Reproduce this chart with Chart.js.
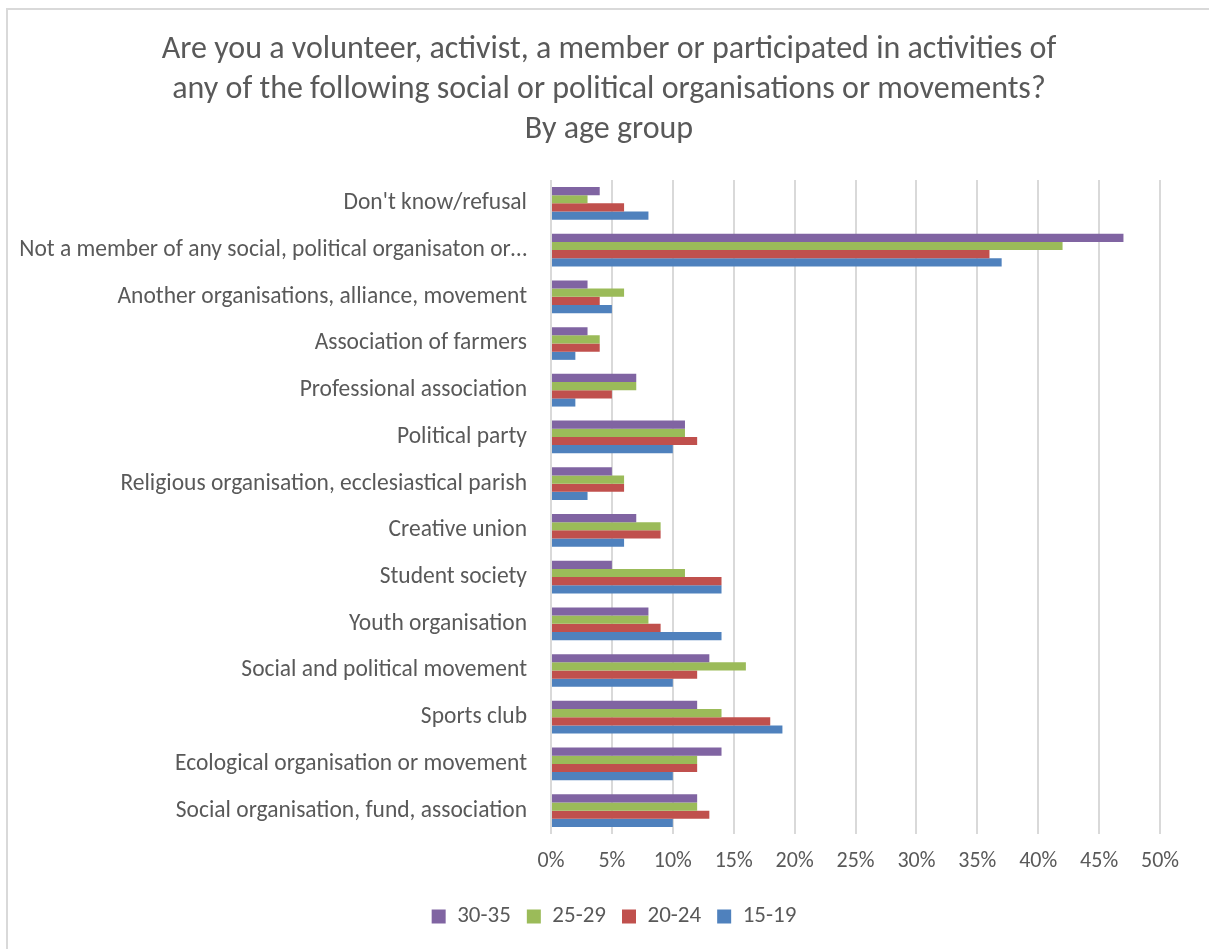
<!DOCTYPE html>
<html>
<head>
<meta charset="utf-8">
<title>Membership by age group</title>
<script src="https://cdn.jsdelivr.net/npm/chart.js@4"></script>
<style>
  html, body { margin: 0; padding: 0; background: #fff; }
  #wrap { position: relative; width: 1209px; height: 949px; overflow: hidden; }
  #frame { position: absolute; left: 6px; top: 8px; width: 1300px; height: 1000px;
           border: 2px solid #d9d9d9; box-sizing: border-box; }
  canvas { position: absolute; left: 0; top: 0; }
</style>
</head>
<body>
<div id="wrap">
  <div id="frame"></div>
  <canvas id="orgChart" width="1209" height="949"></canvas>
</div>
<script>
const categories = [
  "Don't know/refusal",
  'Not a member of any social, political organisaton or\u2026',
  'Another organisations, alliance, movement',
  'Association of farmers',
  'Professional association',
  'Political party',
  'Religious organisation, ecclesiastical parish',
  'Creative union',
  'Student society',
  'Youth organisation',
  'Social and political movement',
  'Sports club',
  'Ecological organisation or movement',
  'Social organisation, fund, association'
];

// percent of respondents, same order as categories
const age30to35 = [4, 47, 3, 3, 7, 11, 5, 7, 5, 8, 13, 12, 14, 12];
const age25to29 = [3, 42, 6, 4, 7, 11, 6, 9, 11, 8, 16, 14, 12, 12];
const age20to24 = [6, 36, 4, 4, 5, 12, 6, 9, 14, 9, 12, 18, 12, 13];
const age15to19 = [8, 37, 5, 2, 2, 10, 3, 6, 14, 14, 10, 19, 10, 10];

const xTicks = [0, 5, 10, 15, 20, 25, 30, 35, 40, 45, 50];

const textColor = '#595959';
const fontFamily = 'Carlito, Lato, "Open Sans", sans-serif';

// title and legend are centred on the whole frame, not only on the padded box
const centreBlocks = {
  id: 'centreBlocks',
  afterLayout(chart) {
    chart.titleBlock.left = 0;
    chart.titleBlock.right = 1218;
    chart.legend.left = 0;
    chart.legend.right = 1228;
  }
};

const ctx = document.getElementById('orgChart').getContext('2d');

new Chart(ctx, {
  type: 'bar',
  data: {
    labels: categories,
    datasets: [
      { label: '30-35', data: age30to35, backgroundColor: '#8064A2' },
      { label: '25-29', data: age25to29, backgroundColor: '#9BBB59' },
      { label: '20-24', data: age20to24, backgroundColor: '#C0504D' },
      { label: '15-19', data: age15to19, backgroundColor: '#4F81BD' }
    ]
  },
  plugins: [centreBlocks],
  options: {
    indexAxis: 'y',
    responsive: false,
    animation: false,
    datasets: {
      bar: { barPercentage: 1, categoryPercentage: 0.7 }
    },
    layout: { padding: { left: 0, right: 49, top: 0, bottom: 11 } },
    scales: {
      x: {
        min: 0,
        max: 50,
        afterBuildTicks: function (scale) {
          scale.ticks = xTicks.map(v => ({ value: v }));
        },
        afterFit: function (scale) { scale.height = 55; },
        grid: { color: '#d9d9d9', lineWidth: 2, drawTicks: false },
        border: { display: false },
        ticks: {
          padding: 14,
          color: textColor,
          font: { family: fontFamily, size: 22 },
          callback: v => v + '%'
        }
      },
      y: {
        afterFit: function (scale) { scale.width = 551; },
        grid: { display: false },
        border: { display: false },
        ticks: {
          padding: 16,
          color: textColor,
          autoSkip: false,
          font: { family: fontFamily, size: 23.5 }
        }
      }
    },
    plugins: {
      title: {
        display: true,
        text: [
          'Are you a volunteer, activist, a member or participated in activities of',
          'any of the following social or political organisations or movements?',
          'By age group'
        ],
        color: textColor,
        font: { family: fontFamily, size: 32, weight: 'normal', lineHeight: 40 / 32 },
        padding: { top: 30, bottom: 30 }
      },
      legend: {
        position: 'bottom',
        labels: {
          boxWidth: 14,
          boxHeight: 14,
          padding: 16,
          color: textColor,
          font: { family: fontFamily, size: 23 }
        }
      },
      tooltip: { enabled: false }
    }
  }
});
</script>
</body>
</html>
